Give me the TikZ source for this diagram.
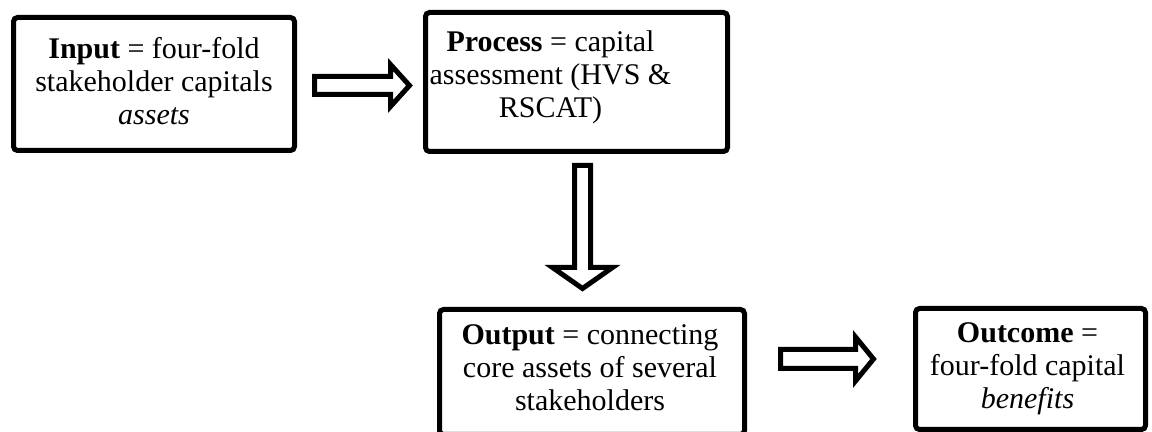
\documentclass[tikz,border=0pt]{standalone}
\usepackage{fontspec}
\setmainfont{Liberation Serif}
\usetikzlibrary{calc}
\begin{document}
\tikzset{
  box/.style={draw, line width=2.5pt, rounded corners=2pt, outer sep=0pt, inner sep=0pt, fill=white},
  txt/.style={align=center, inner sep=0pt, font=\fontsize{15pt}{16.5pt}\selectfont},
  blockarrow/.style={draw, line width=2.5pt, fill=white, miter limit=10}
}
\begin{tikzpicture}[x=0.5pt, y=-0.5pt]
  \useasboundingbox (0,0) rectangle (1152,432);
  % the four stage boxes
  \node[box, minimum width=140.5pt, minimum height=66.5pt] (in)   at (154,84) {};
  \node[box, minimum width=151pt,   minimum height=69.5pt] (proc) at (576.5,82) {};
  \node[box, minimum width=152.5pt, minimum height=62.5pt] (out)  at (592,372) {};
  \node[box, minimum width=115pt,   minimum height=60.5pt] (outc) at (1030.5,369) {};
  % their texts
  \node[txt] (intext)   at ($(in.center)+(0,-3)$)
    {\textbf{Input} = four-fold\\stakeholder capitals\\\textit{assets}};
  \node[txt] (proctext) at ($(proc.center)+(-26,-4.5)$)
    {\textbf{Process} = capital\\assessment (HVS \&\\RSCAT)};
  \node[txt] (outtext)  at ($(out.center)+(-2,-4)$)
    {\textbf{Output} = connecting\\core assets of several\\stakeholders};
  \node[txt] (outctext) at ($(outc.center)+(-3,0)$)
    {\textbf{Outcome} =\\four-fold capital\\\textit{benefits}};
  % hollow block arrows between the stages
  \draw[blockarrow, shift={($(in.east)+(20,1.5)$)}]
    (0,-9) -- (76,-9) -- (76,-21) -- (95,0) -- (76,21) -- (76,9) -- (0,9) -- cycle;
  \draw[blockarrow, shift={($(proc.south)+(6,14)$)}]
    (-8,0) -- (-8,102) -- (-30,102) -- (0,123) -- (30,102) -- (8,102) -- (8,0) -- cycle;
  \draw[blockarrow, shift={($(out.east)+(36,-13)$)}]
    (0,-9.5) -- (75,-9.5) -- (75,-22) -- (93,0) -- (75,22) -- (75,9.5) -- (0,9.5) -- cycle;
\end{tikzpicture}
\end{document}
